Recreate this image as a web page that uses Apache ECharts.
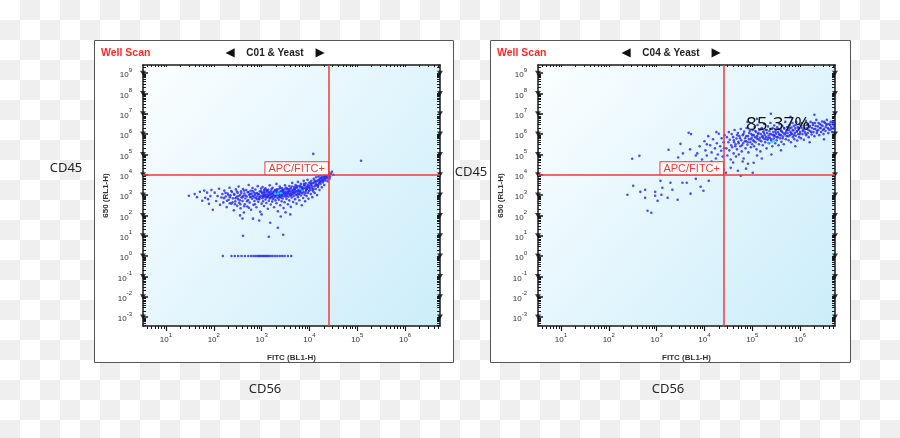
<!DOCTYPE html>
<html><head><meta charset="utf-8">
<script src="https://cdn.jsdelivr.net/npm/echarts@6/dist/echarts.min.js"></script>
<style>
html,body{margin:0;padding:0;width:900px;height:438px;overflow:hidden;
background:repeating-conic-gradient(#efefef 0 25%, #ffffff 0 50%) 0 0/40px 40px;}
#c{width:900px;height:438px;}
</style></head><body><div id="c"></div>
<script>
// ---------- data (log10 FITC, log10 650) ----------
const xTickExps = [1, 2, 3, 4, 5, 6];
const yTickExps = [-3, -2, -1, 0, 1, 2, 3, 4, 5, 6, 7, 8, 9];
const gateFitc = 25000;
const gateApc = 10000;
const panelTitles = ['C01 & Yeast', 'C04 & Yeast'];
const gateLabel = 'APC/FITC+';
const c04Percent = '85.37%';

const c01Main = [
[1.48,2.97],[1.6,3.05],[1.71,3.16],[1.76,2.72],[1.82,2.87],[1.86,3.12],[1.9,2.57],[1.93,2.95],[1.95,3.25],[1.98,2.28],[1.88,2.8],[1.8,3.22],[1.65,2.9],
[2.02,3.12],[2.05,2.71],[2.08,2.95],[2.11,3.31],[2.13,2.52],[2.16,2.88],[2.18,3.05],[2.2,2.64],[2.22,3.22],[2.25,2.93],[2.27,2.41],[2.29,3.08],[2.31,2.77],[2.33,3.36],[2.35,2.99],[2.37,2.58],[2.38,3.15],[2.4,2.84],[2.42,2.25],[2.43,3.02],[2.45,2.69],[2.46,3.28],[2.48,2.91],[2.49,2.47],[2.5,3.11],
[2.51,2.8],[2.52,3.42],[2.53,2.62],[2.55,3.0],[2.56,2.35],[2.57,3.19],[2.58,2.88],[2.6,2.71],[2.61,3.3],[2.62,2.97],[2.63,2.14],[2.64,3.08],[2.65,2.55],[2.66,2.83],[2.68,3.25],[2.69,2.93],[2.7,2.44],[2.71,3.14],[2.72,2.76],[2.73,3.5],[2.74,3.02],[2.75,2.63],[2.76,2.9],[2.77,3.21],[2.78,2.28],[2.79,3.07],[2.8,2.82],[2.81,3.35],[2.82,2.97],[2.83,2.52],[2.84,3.13],[2.85,2.71],[2.86,3.0],[2.87,3.27],[2.88,2.86],[2.89,2.4],[2.9,3.1],[2.91,2.94],[2.92,3.44],[2.93,2.67],[2.94,3.04],[2.95,2.8],[2.96,3.18],[2.97,2.18],[2.98,2.96],[2.99,3.32],[3.0,2.58],
[3.01,3.09],[3.02,2.85],[3.02,3.4],[3.03,2.7],[3.04,3.02],[3.05,3.21],[3.05,2.46],[3.06,2.93],[3.07,3.12],[3.08,2.78],[3.08,3.33],[3.09,2.98],[3.1,2.61],[3.11,3.17],[3.11,2.88],[3.12,3.05],[3.13,2.33],[3.14,3.26],[3.14,2.95],[3.15,2.72],[3.16,3.1],[3.17,2.83],[3.17,3.48],[3.18,3.0],[3.19,2.54],[3.2,3.2],[3.2,2.9],[3.21,3.07],[3.22,2.68],[3.23,3.36],[3.23,2.97],[3.24,2.8],[3.25,3.14],[3.26,2.4],[3.26,3.03],[3.27,2.88],[3.28,3.25],[3.29,2.74],[3.29,3.09],[3.3,2.95],[3.31,3.55],[3.31,2.6],[3.32,3.17],[3.33,2.86],[3.34,3.01],[3.34,2.2],[3.35,3.29],[3.36,2.93],[3.36,2.77],[3.37,3.12],[3.38,3.42],[3.38,2.98],[3.39,2.5],[3.4,3.2],[3.41,2.89],[3.41,3.06],[3.42,2.7],[3.43,3.33],[3.43,3.0],[3.44,2.83],[3.45,3.15],[3.46,2.36],[3.46,3.26],[3.47,2.94],[3.48,3.08],[3.48,2.65],[3.49,3.48],[3.5,3.02],
[3.51,3.18],[3.52,2.81],[3.52,3.36],[3.53,2.98],[3.54,3.1],[3.55,2.55],[3.55,3.27],[3.56,2.92],[3.57,3.05],[3.58,3.45],[3.58,2.74],[3.59,3.2],[3.6,2.97],[3.61,3.33],[3.61,2.42],[3.62,3.12],[3.63,2.88],[3.64,3.6],[3.64,3.03],[3.65,3.25],[3.66,2.66],[3.67,3.15],[3.67,2.95],[3.68,3.4],[3.69,3.08],[3.7,2.8],[3.7,3.3],[3.71,3.5],[3.72,3.0],[3.73,3.2],[3.73,2.58],[3.74,3.37],[3.75,3.1],[3.76,2.9],[3.76,3.65],[3.77,3.26],[3.78,3.04],[3.79,3.44],[3.79,2.75],[3.8,3.17],[3.81,3.33],[3.82,2.98],[3.82,3.55],[3.83,3.22],[3.84,2.5],[3.85,3.4],[3.85,3.08],[3.86,3.28],[3.87,2.86],[3.88,3.7],[3.88,3.15],[3.89,3.47],[3.9,3.02],[3.91,3.35],[3.91,2.7],[3.92,3.58],[3.93,3.2],[3.94,3.42],[3.94,2.95],[3.95,3.3],[3.96,3.75],[3.97,3.1],[3.97,3.52],[3.98,2.82],[3.99,3.38],[4.0,3.62],
[4.01,3.25],[4.02,3.48],[4.03,3.05],[4.04,3.7],[4.05,3.35],[4.06,2.9],[4.07,3.58],[4.08,3.18],[4.09,3.8],[4.1,3.42],[4.11,3.1],[4.12,3.65],[4.13,3.3],[4.14,3.88],[4.15,3.5],[4.16,3.0],[4.17,3.72],[4.18,3.4],[4.19,3.92],[4.2,3.6],[4.21,3.25],[4.22,3.82],[4.23,3.55],[4.24,3.98],[4.25,3.7],[4.26,3.38],[4.27,3.9],[4.28,3.62],[4.29,4.02],[4.3,3.8],[4.31,3.5],[4.32,3.95],[4.33,3.72],[4.35,4.05],[4.36,3.88],[4.38,3.68],[4.4,3.98],[4.41,4.1],[4.43,3.9],[4.45,4.05],[4.47,4.15],[4.5,4.0],
[2.61,1.0],[3.15,0.95],[3.45,1.05],[2.82,1.84],[3.18,1.64],[3.34,1.39],[2.6,1.85],[2.95,1.75],[3.4,1.95],[3.6,2.05],[3.0,2.05],[3.5,2.15],[2.55,2.0],
[4.08,5.03],[5.08,4.69]
];
const c01Core = [
[2.93,3.05],[2.96,2.9],[3.0,3.15],[3.03,2.96],[3.06,3.28],[3.09,2.9],[3.12,3.2],[3.15,3.0],[3.18,2.86],[3.21,3.3],[3.24,3.08],[3.27,2.95],[3.3,3.22],[3.33,3.1],[3.36,3.02],[3.39,3.35],[3.42,2.96],[3.45,3.22],[3.48,3.12],[3.51,2.92],[3.54,3.3],[3.57,3.18],[3.6,3.05],[3.63,3.42],[3.66,3.1],[3.69,3.25],[3.72,3.38],[3.75,3.02],[3.78,3.22],[3.81,3.45],[3.84,3.13],[3.87,3.33],[3.9,3.5],[3.93,3.27],[3.96,3.4],[3.99,3.2],[4.02,3.6],[4.05,3.45],[4.08,3.3],[4.11,3.72],[4.14,3.55],[4.17,3.45],[4.2,3.75],[4.23,3.65],[4.26,3.8],[4.29,3.7],[4.32,3.85],[4.35,3.95],[4.38,3.82],[4.42,4.0],
[2.947,2.83],[2.983,3.2],[3.017,2.93],[3.044,3.12],[3.073,3.0],[3.103,3.25],[3.137,2.92],[3.163,3.15],[3.197,3.08],[3.223,2.92],[3.256,3.18],[3.284,3.02],[3.317,3.28],[3.343,3.06],[3.377,2.88],[3.404,3.15],[3.437,3.25],[3.463,3.05],[3.497,3.32],[3.523,3.06],[3.556,3.15],[3.583,3.3],[3.617,3.0],[3.643,3.2],[3.677,3.3],[3.704,3.15],[3.737,3.45],[3.763,3.2],[3.797,3.1],[3.823,3.35],[3.857,3.2],[3.883,3.55],[3.917,3.1],[3.943,3.3],[3.977,3.45],[4.004,3.35],[4.037,3.55],[4.063,3.25],[4.097,3.62],[4.124,3.48],[4.157,3.68],[4.183,3.5],[4.217,3.7],[4.243,3.85],[4.276,3.72],[4.303,3.9],[4.337,3.8],[4.364,4.0],[4.397,3.9],[4.42,3.8],
[2.215,2.85],[2.245,3.1],[2.276,2.72],[2.305,3.0],[2.338,2.9],[2.366,3.2],[2.395,2.65],[2.424,3.05],[2.456,2.85],[2.485,3.18],[2.517,2.95],[2.546,2.75],[2.575,3.1],[2.604,2.9],[2.636,3.22],[2.665,2.98],[2.695,2.7],[2.724,3.15],[2.756,3.05],[2.785,2.92],[2.815,3.2],[2.845,2.9],[2.876,3.08],[2.905,2.8],[2.635,2.45],[2.735,2.38],[2.86,2.55],[2.555,2.55],[2.445,2.55],[2.335,2.6]
];
const c01Floor = [2.19,2.37,2.44,2.51,2.58,2.65,2.72,2.78,2.83,2.87,2.91,2.94,2.97,3.0,3.03,3.06,3.09,3.12,3.15,3.19,3.23,3.28,3.33,3.38,3.43,3.48,3.55,3.62];
const c01Hot = [[3.28,3.07],[3.34,3.07],[3.8,3.31],[3.85,3.21],[3.4,3.1]];

const c04Main = [
[2.51,3.46],[2.39,3.02],[2.66,3.16],[2.76,3.26],[2.97,3.16],[3.12,3.36],[3.33,3.26],[2.76,2.87],[2.97,2.97],[3.1,3.02],[3.02,2.72],[3.23,2.87],[3.44,2.77],[2.81,2.23],[2.89,2.13],[3.54,3.61],[3.63,3.61],[3.82,3.8],[4.09,3.7],[3.29,3.61],[3.08,3.7],[3.92,3.41],[3.71,3.07],[3.98,3.21],
[4.55,4.34],[4.7,4.2],[4.76,3.95],[4.91,4.54],[5.01,4.1],[5.03,4.59],[4.87,4.3],[4.45,4.1],[4.6,4.6],[5.2,4.8],[5.4,5.0],[5.6,5.2],[5.9,5.4],[6.2,5.6],[6.5,5.75],[5.1,4.95],[4.8,4.65],
[3.25,5.23],[2.64,4.93],[2.49,4.79],[3.5,5.52],[3.67,6.07],[3.72,6.0],[3.45,4.85],[3.6,4.6],[3.78,4.4],[3.85,5.05],[3.9,5.4],[3.95,4.75],[4.0,5.65],[4.02,5.2],[4.05,4.95],[4.08,5.9],[4.1,4.5],[4.12,5.45],[4.15,5.1],[4.18,5.75],[4.2,4.3],[4.22,5.3],[4.24,4.8],[4.26,5.55],[4.28,5.0],[4.3,6.02],[4.32,4.6],[4.33,5.4],[4.35,5.18],[4.36,5.8],[4.38,4.9],[4.4,5.6],[4.4,4.25],[4.41,5.3],[4.42,5.95],[3.98,4.35],[3.82,4.95],[3.7,5.25],[3.55,5.05],[4.15,4.65],[4.25,6.1],[4.05,5.5],
[4.46,5.3],[4.47,5.85],[4.48,4.95],[4.5,5.6],[4.51,6.1],[4.52,5.2],[4.53,5.72],[4.55,4.75],[4.56,5.45],[4.57,6.0],[4.58,5.35],[4.6,5.85],[4.61,5.05],[4.62,5.6],[4.63,6.2],[4.65,5.5],[4.66,4.9],[4.67,5.78],[4.68,5.25],[4.7,6.05],[4.71,5.62],[4.72,5.0],[4.73,5.9],[4.75,5.4],[4.76,6.25],[4.77,5.7],[4.78,5.15],[4.8,5.95],[4.81,5.55],[4.82,4.8],[4.83,6.12],[4.85,5.8],[4.86,5.3],[4.87,5.65],[4.88,6.3],[4.9,5.48],[4.91,5.9],[4.92,5.1],[4.93,5.75],[4.95,6.15],[4.96,5.6],[4.97,5.35],[4.98,6.0],[4.99,5.82],[5.0,5.5],
[5.01,6.2],[5.02,5.7],[5.03,5.95],[5.04,5.4],[5.05,6.35],[5.06,5.85],[5.07,5.6],[5.08,6.1],[5.09,5.25],[5.1,5.9],[5.11,6.45],[5.12,5.75],[5.13,6.05],[5.14,5.5],[5.15,6.2],[5.16,5.82],[5.17,5.15],[5.18,6.0],[5.19,5.65],[5.2,6.3],[5.21,5.9],[5.22,5.45],[5.23,6.12],[5.24,5.78],[5.25,6.5],[5.26,5.95],[5.27,5.6],[5.28,6.2],[5.29,5.85],[5.3,5.3],[5.31,6.05],[5.32,5.72],[5.33,6.38],[5.34,5.92],[5.35,5.55],[5.36,6.15],[5.37,5.82],[5.38,6.55],[5.39,6.0],[5.4,5.68],[5.41,6.25],[5.42,5.4],[5.43,5.95],[5.44,6.1],[5.45,5.78],[5.46,6.42],[5.47,5.9],[5.48,5.55],[5.49,6.2],[5.5,6.02],[5.51,5.7],[5.52,6.33],[5.53,5.85],[5.54,6.1],[5.55,5.45],[5.56,6.0],[5.57,6.5],[5.58,5.8],[5.59,6.22],[5.6,5.95],[5.61,5.62],[5.62,6.12],[5.63,6.4],[5.64,5.88],[5.65,6.05],[5.66,5.5],[5.67,6.28],[5.68,5.98],[5.69,6.6],[5.7,5.75],[5.71,6.15],[5.72,5.9],[5.73,6.35],[5.74,6.05],
[5.76,5.7],[5.77,6.2],[5.78,6.45],[5.79,5.95],[5.8,6.1],[5.81,5.6],[5.82,6.32],[5.83,6.0],[5.84,6.55],[5.85,5.85],[5.86,6.18],[5.87,6.4],[5.88,5.75],[5.89,6.05],[5.9,6.28],[5.91,5.92],[5.92,6.6],[5.93,6.12],[5.94,5.68],[5.95,6.35],[5.96,6.0],[5.97,6.22],[5.98,5.85],[5.99,6.48],[6.0,6.1],[6.02,5.8],[6.03,6.3],[6.04,6.55],[6.05,6.0],[6.07,6.2],[6.08,5.72],[6.09,6.42],[6.1,6.1],[6.12,6.65],[6.13,5.95],[6.14,6.28],[6.16,6.05],[6.17,6.5],[6.18,5.85],[6.2,6.35],[6.21,6.15],[6.22,6.6],[6.24,5.98],[6.25,6.3],[6.27,6.45],[6.28,6.1],[6.3,5.9],[6.31,6.55],[6.32,6.25],[6.34,6.7],[6.35,6.05],[6.37,6.38],[6.38,6.2],[6.4,5.95],[6.41,6.5],[6.43,6.3],[6.44,6.1],[6.46,6.62],[6.47,6.4],[6.49,6.0],[6.5,6.25],[6.52,6.55],[6.53,6.15],[6.55,6.45],[6.56,6.7],[6.58,6.3],[6.59,6.05],[6.61,6.5],[6.62,6.2],[6.64,6.6],[6.65,6.35],[6.67,6.1],[6.68,6.48],[6.7,6.28],[6.72,6.55],
[5.39,7.0],[5.8,6.85],[6.3,6.95],[4.9,6.6],[5.1,6.75]
];
const c04Core = [
[4.615,5.7],[4.645,5.4],[4.685,5.95],[4.715,5.55],[4.745,5.8],[4.785,5.45],[4.815,6.0],[4.845,5.65],[4.875,5.9],[4.905,5.6],[4.935,6.05],[4.965,5.75],[5.005,5.95],[5.035,5.65],[5.065,6.15],[5.095,5.8],[5.125,6.0],[5.155,5.7],[5.185,6.25],[5.215,5.85],[5.245,6.05],[5.275,5.75],[5.305,6.2],[5.335,5.8],[5.365,6.0],[5.395,5.75],[5.425,6.3],[5.455,5.95],[5.485,6.1],[5.515,5.85],[5.545,6.25],[5.575,5.95],[5.605,6.15],[5.635,5.8],[5.665,6.3],[5.695,6.05],[5.725,6.2],[5.755,5.9],[5.785,6.3],[5.815,6.05],[5.845,6.2],[5.875,5.95],[5.905,6.45],[5.935,6.15],[5.965,6.3],[5.995,6.0],[6.025,6.4],[6.055,6.15],[6.085,6.3],[6.115,6.0],[6.145,6.45],[6.175,6.2],[6.205,6.4],[6.235,6.1],[6.265,6.55],[6.295,6.25],[6.325,6.4],[6.355,6.15],[6.385,6.55],[6.415,6.3],[6.445,6.45],[6.475,6.2],[6.505,6.6],[6.535,6.35],[6.565,6.5],[6.595,6.25],[6.625,6.45],[6.655,6.25],[6.685,6.6],[6.715,6.4]
];
const c04Hot = [[5.33,5.57],[5.4,5.6],[5.45,5.65]];

// ---------- chart ----------
const xMin = Math.pow(10, 0.52), xMax = Math.pow(10, 6.73);
const yMin = Math.pow(10, -3.44), yMax = Math.pow(10, 9.4);
const xMajor = xTickExps.map(e => Math.pow(10, e));
const yMajor = yTickExps.map(e => Math.pow(10, e));
function minors(lo, hi, mn, mx) {
  const r = [];
  for (let e = lo; e <= hi; e++) for (let m = 2; m <= 9; m++) {
    const v = m * Math.pow(10, e); if (v > mn && v < mx) r.push(v);
  }
  return r;
}
const xMinor = minors(0, 6, xMin, xMax);
const yMinor = minors(-4, 9, yMin, yMax);
const toVal = p => [Math.pow(10, p[0]), Math.pow(10, p[1])];

const fmt = v => '{b|10}{s|' + Math.round(Math.log10(v)) + '}';
const rich = {
  b: {fontSize: 8, color: '#333', fontFamily: 'Liberation Sans', lineHeight: 12, verticalAlign: 'bottom'},
  s: {fontSize: 6, color: '#333', fontFamily: 'Liberation Sans', lineHeight: 12, verticalAlign: 'top'}
};
const ink = '#1a1a1a';
const gridLefts = [143, 538];
const grids = [], xAxes = [], yAxes = [], series = [];

gridLefts.forEach((L, g) => {
  grids.push({left: L, top: 65, width: 297, height: 261, show: true, borderWidth: 0,
    backgroundColor: {type: 'linear', x: 0, y: 0, x2: 1, y2: 1,
      colorStops: [{offset: 0, color: '#fbfeff'}, {offset: 1, color: '#cbedfa'}]}});
  const bx = {type: 'log', logBase: 10, gridIndex: g, min: xMin, max: xMax,
    splitLine: {show: false}, minorTick: {show: false}, axisPointer: {show: false}};
  xAxes.push(Object.assign({}, bx, {position: 'bottom',
    name: 'FITC (BL1-H)', nameLocation: 'middle', nameGap: 28,
    nameTextStyle: {fontSize: 8, fontWeight: 'bold', color: '#333', fontFamily: 'Liberation Sans'},
    axisLine: {show: true, onZero: false, lineStyle: {color: ink, width: 1.5}},
    axisTick: {show: true, customValues: xMajor, length: 5, lineStyle: {color: ink, width: 1.2}},
    axisLabel: {show: true, customValues: xMajor, margin: 6, formatter: fmt, rich: rich}}));
  xAxes.push(Object.assign({}, bx, {position: 'bottom',
    axisLine: {show: false, onZero: false},
    axisTick: {show: true, customValues: xMinor, length: 3, lineStyle: {color: ink, width: 1}},
    axisLabel: {show: false}}));
  xAxes.push(Object.assign({}, bx, {position: 'top',
    axisLine: {show: true, onZero: false, lineStyle: {color: ink, width: 1.5}},
    axisTick: {show: true, inside: true, customValues: xMajor.concat(xMinor), length: 2, lineStyle: {color: ink, width: 1}},
    axisLabel: {show: false}}));
  const by = {type: 'log', logBase: 10, gridIndex: g, min: yMin, max: yMax,
    splitLine: {show: false}, minorTick: {show: false}, axisPointer: {show: false}};
  yAxes.push(Object.assign({}, by, {position: 'left',
    name: '650 (RL1-H)', nameLocation: 'middle', nameGap: 33,
    nameTextStyle: {fontSize: 8, fontWeight: 'bold', color: '#333', fontFamily: 'Liberation Sans'},
    axisLine: {show: true, onZero: false, lineStyle: {color: ink, width: 1.5}},
    axisTick: {show: true, inside: true, customValues: yMajor, length: 5, lineStyle: {color: ink, width: 1.5}},
    axisLabel: {show: true, customValues: yMajor, margin: 11, formatter: fmt, rich: rich}}));
  yAxes.push(Object.assign({}, by, {position: 'left',
    axisLine: {show: false, onZero: false},
    axisTick: {show: true, inside: true, customValues: yMinor, length: 3, lineStyle: {color: ink, width: 1}},
    axisLabel: {show: false}}));
  yAxes.push(Object.assign({}, by, {position: 'right',
    axisLine: {show: true, onZero: false, lineStyle: {color: ink, width: 1.5}},
    axisTick: {show: true, inside: true, customValues: yMajor.concat(yMinor), length: 3, lineStyle: {color: ink, width: 1}},
    axisLabel: {show: false}}));
});

function addPanel(g, main, core, hot, floor) {
  const xi = g * 3, yi = g * 3;
  let pts = main.concat(core).map(toVal);
  if (floor) pts = pts.concat(floor.map(x => [Math.pow(10, x), 1]));
  series.push({type: 'scatter', xAxisIndex: xi, yAxisIndex: yi, data: pts,
    symbolSize: 2.6, itemStyle: {color: '#2626f4'}, silent: true, animation: false,
    markLine: {silent: true, symbol: 'none', animation: false, label: {show: false},
      lineStyle: {color: '#f03a3a', width: 1.5, type: 'solid'},
      data: [{xAxis: gateFitc}, {yAxis: gateApc}]},
    markPoint: {silent: true, animation: false, symbol: 'rect', symbolSize: 1,
      itemStyle: {color: 'rgba(0,0,0,0)'},
      data: [{coord: [gateFitc, gateApc]}],
      label: {show: true, formatter: gateLabel, position: [0, 0], align: 'right', verticalAlign: 'bottom',
        fontSize: 11, color: '#f03a3a', fontFamily: 'Liberation Sans',
        backgroundColor: '#ffffff', borderColor: '#f03a3a', borderWidth: 1, padding: [1, 3, 0, 3]}}
  });
  series.push({type: 'scatter', xAxisIndex: xi, yAxisIndex: yi, data: hot.map(toVal),
    symbolSize: 2.6, itemStyle: {color: '#22d8e8'}, silent: true, animation: false});
  const tri = [];
  yMajor.forEach(v => { tri.push([xMin, v]); tri.push([xMax, v]); });
  series.push({type: 'scatter', xAxisIndex: xi, yAxisIndex: yi, data: tri, clip: false,
    symbol: 'triangle', symbolRotate: 180, symbolSize: [6, 5], itemStyle: {color: '#111'},
    silent: true, animation: false});
}
addPanel(0, c01Main, c01Core, c01Hot, c01Floor);
addPanel(1, c04Main, c04Core, c04Hot, null);

const graphic = [];
[94, 490].forEach((fx, g) => {
  const w = g === 0 ? 359 : 360;
  graphic.push({type: 'rect', z: -10, shape: {x: fx + 0.5, y: 40.5, width: w, height: 322},
    style: {fill: '#ffffff', stroke: '#555', lineWidth: 1}});
  graphic.push({type: 'text', x: fx + 7, y: 53, style: {text: 'Well Scan', fill: '#ff2a2a',
    font: 'bold 10.5px "Liberation Sans"', textVerticalAlign: 'middle'}});
  const cx = fx + 181;
  graphic.push({type: 'text', x: cx, y: 53, style: {text: panelTitles[g], fill: '#222',
    font: 'bold 10px "Liberation Sans"', textAlign: 'center', textVerticalAlign: 'middle'}});
  graphic.push({type: 'text', x: cx - 45, y: 53, style: {text: '◀', fill: '#111',
    font: '12px "DejaVu Sans"', textAlign: 'center', textVerticalAlign: 'middle'}});
  graphic.push({type: 'text', x: cx + 45, y: 53, style: {text: '▶', fill: '#111',
    font: '12px "DejaVu Sans"', textAlign: 'center', textVerticalAlign: 'middle'}});
});
[[66, 168, 'CD45'], [471, 172, 'CD45'], [265, 389, 'CD56'], [668, 389, 'CD56']].forEach(t => {
  graphic.push({type: 'text', x: t[0], y: t[1], z: 10, style: {text: t[2], fill: '#262626',
    font: '13px "Noto Sans"', textAlign: 'center', textVerticalAlign: 'middle'}});
});
graphic.push({type: 'text', x: 778, y: 125, z: 10, style: {text: c04Percent, fill: '#111',
  font: '19px "Open Sans"', textAlign: 'center', textVerticalAlign: 'middle'}});

const chart = echarts.init(document.getElementById('c'), null, {renderer: 'canvas'});
chart.setOption({backgroundColor: 'transparent', animation: false,
  grid: grids, xAxis: xAxes, yAxis: yAxes, series: series, graphic: graphic});
</script></body></html>
